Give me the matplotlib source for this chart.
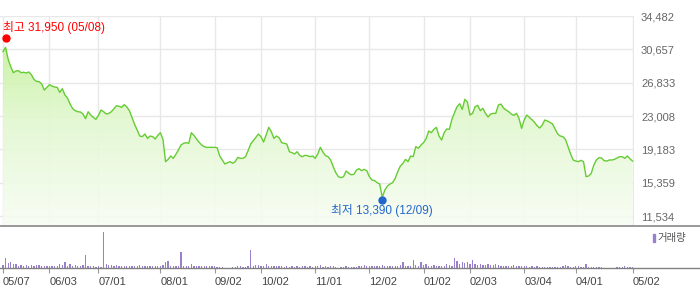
import numpy as np
import matplotlib
matplotlib.use("Agg")
import matplotlib.pyplot as plt
from matplotlib.lines import Line2D
from matplotlib.patches import Rectangle
from matplotlib.colors import LinearSegmentedColormap

plt.rcParams["font.family"] = ["Liberation Sans", "Noto Sans CJK KR"]

# === DATA ===
# daily closes, 2024-05-07 .. 2025-05-02 (one value per trading day)
closes = [
    30390, 30890, 29510, 28670, 27980, 28170, 28210, 27980, 28020, 27940,
    28060, 27750, 27210, 26980, 26950, 26680, 25990, 26300, 26600, 26450,
    26330, 26300, 25720, 26140, 25420, 25070, 24380, 23850, 23620, 23500,
    23470, 23240, 22700, 23500, 23120, 22850, 22620, 23080, 23700, 23500,
    23240, 23310, 23500, 23850, 24190, 24120, 24000, 24310, 24040, 23620,
    22850, 22050, 21400, 20710, 20640, 20940, 20440, 20710, 20640, 20370,
    20790, 21090, 20330, 17770, 18030, 18420, 18150, 18610, 19110, 19680,
    19870, 19950, 19870, 21090, 20790, 20370, 19990, 19680, 19490, 19410,
    19410, 19410, 19410,
    19370, 18420, 17960, 17500, 17650, 17770, 17580, 17770, 18260, 18150,
    18150, 18340, 19030, 19790, 20180, 20560, 20940, 20640, 20020, 20830,
    21710, 21210, 20440, 20710, 20520, 19950, 19870, 19790, 18910, 18800,
    18650, 18910, 18490, 18340, 18490, 18460, 18340, 18420, 18150, 18650,
    19410, 18880, 18460, 18340, 17960, 17190, 16500, 16050, 15930, 16050,
    16700, 16430, 16270, 16310, 16810, 16960, 16730, 16890, 16730, 16050,
    15660, 15590, 15360, 15200, 13670, 14520, 14970, 15200, 15360, 15850,
    16620, 17270, 17580, 18030, 17770, 18420, 18340, 19490, 19300, 19680,
    19950,
    20410, 21290, 21090, 21480, 21710, 20710, 20250, 21090, 21520, 21480,
    22620, 23390, 24080, 24420, 23770, 24920, 24610, 23120, 23310, 24080,
    24230, 23620, 23890, 23310, 22890, 23240, 23310, 23310, 24270, 24380,
    23920, 23700, 23500, 23240, 23080, 23310, 22740, 21590, 22550, 23120,
    22850, 22590, 22280, 21900, 21630, 21970, 22550, 22430, 22280, 22090,
    21520, 20940, 20710, 20640, 20330, 19490, 18650, 17960, 17840, 17770,
    17920, 17770, 16050, 16120, 16430, 17380, 17960, 18230, 18190, 17880,
    17840, 17960, 17960, 18030, 18190, 18340, 18340, 18150, 18420, 18110,
    17840,
]

# volume, 10k shares
volume_10k = [
    3, 10, 5, 6, 4, 4, 2, 3, 2, 3,
    2, 3, 2, 3, 3, 2, 2, 2, 2, 2,
    2, 2, 4, 3, 6, 2, 4, 2, 3, 2,
    2, 3, 13, 2, 2, 2, 1, 2, 1, 37,
    4, 3, 3, 2, 3, 2, 2, 2, 2, 2,
    2, 2, 2, 3, 2, 2, 2, 2, 2, 2,
    2, 2, 3, 6, 7, 2, 2, 2, 2, 16,
    2, 2, 2, 4, 2, 2, 2, 2, 2, 2,
    2, 2, 2,
    1, 1, 1, 0, 0, 0, 1, 1, 2, 2,
    1, 1, 2, 18, 2, 3, 3, 2, 2, 4,
    2, 2, 2, 2, 2, 2, 1, 2, 1, 2,
    1, 2, 1, 2, 2, 1, 2, 1, 2, 2,
    3, 1, 2, 1, 2, 2, 1, 0, 1, 1,
    2, 1, 1, 1, 1, 2, 2, 3, 2, 2,
    2, 2, 2, 2, 3, 2, 2, 2, 2, 2,
    2, 3, 6, 2, 2, 2, 8, 3, 2, 6,
    3, 4, 2, 2, 3, 2, 2, 2, 2, 4,
    3, 2, 10, 7, 4, 6, 5, 6, 4, 8,
    4, 3, 4, 3, 3, 4, 3, 3, 4, 3,
    2, 2, 2, 2, 2, 3, 2, 2, 2, 2,
    2, 1, 2, 1, 2, 1, 1, 1, 1, 1,
    1, 1, 1, 1, 2, 3, 2, 1, 1, 2,
    2, 1, 1, 4, 1, 1, 1, 1, 1, 1,
    0, 0, 0, 0, 0, 1, 1, 1, 2, 1,
    1, 1,
]

tick_idx = [0, 18, 37, 61, 82, 100, 121, 142, 163, 181, 202, 222, 244]
tick_labels = ["05/07", "06/03", "07/01", "08/01", "09/02", "10/02", "11/01",
               "12/02", "01/02", "02/03", "03/04", "04/01", "05/02"]

price_ticks = [34482, 30657, 26833, 23008, 19183, 15359, 11534]

high_price, high_date = 31950, "05/08"
low_price, low_date = 13390, "12/09"

# === LAYOUT ===
W, H = 700, 289
PX = 2.58  # pixels per trading day


def px_box(left, top, right, bottom):
    return [left / W, 1 - bottom / H, (right - left) / W, (bottom - top) / H]


fig = plt.figure(figsize=(W / 100, H / 100), dpi=100)
ax = fig.add_axes(px_box(0, 16, 634, 226))
axv = fig.add_axes(px_box(0, 226, 634, 268))

x = np.arange(len(closes))
xlim = (-3 / PX, 631 / PX)
ylim = (price_ticks[-1] - 10 * (price_ticks[0] - price_ticks[-1]) / 200, price_ticks[0])

# --- price panel ---
ax.set_xlim(*xlim)
ax.set_ylim(*ylim)

grad = np.linspace(0, 1, 256).reshape(-1, 1)
cmap = LinearSegmentedColormap.from_list("g", ["#f8fdf4", "#e2f8d0", "#bbee8a"])
im = ax.imshow(grad, extent=[xlim[0], xlim[1], ylim[0], ylim[1]], origin="lower",
               aspect="auto", cmap=cmap, zorder=1, alpha=0.9)
poly = ax.fill_between(x, closes, ylim[0], facecolor="none", edgecolor="none")
im.set_clip_path(poly.get_paths()[0], transform=ax.transData)

ax.plot(x, closes, color="#66cc33", lw=1.0, zorder=3)

ax.set_xticks(tick_idx)
ax.set_yticks(price_ticks)
ax.set_yticklabels([f"{v:,}" for v in price_ticks])
ax.grid(True, color="#e8e8e8", lw=1.0)
ax.set_axisbelow(True)
ax.tick_params(axis="x", length=0, labelbottom=False)
ax.yaxis.tick_right()
ax.tick_params(axis="y", length=0, pad=5, labelsize=8, labelcolor="#666666")
for s in ax.spines.values():
    s.set_visible(False)

hi = int(np.argmax(closes))
lo = int(np.argmin(closes))
ax.plot(hi, high_price, "o", color="#ff0000", ms=5, zorder=5, clip_on=False)
ax.annotate(f"최고 {high_price:,} ({high_date})", xy=(hi, high_price),
            xytext=(-1.5, 7.5), textcoords="offset points", ha="left", va="center",
            color="#ff0000", fontsize=8.5)
ax.plot(lo, low_price, "o", color="#2266cc", ms=5, zorder=5, clip_on=False)
ax.annotate(f"최저 {low_price:,} ({low_date})", xy=(lo, low_price),
            xytext=(0, -7.5), textcoords="offset points", ha="center", va="center",
            color="#2266cc", fontsize=8.5)

# --- volume panel ---
axv.bar(x, volume_10k, width=0.5, color="#9a80cc", linewidth=0)
axv.set_xlim(*xlim)
axv.set_ylim(0, max(volume_10k) * 42 / 36.5)
axv.set_yticks([])
axv.set_xticks(tick_idx)
axv.set_xticklabels(tick_labels)
for lbl in axv.get_xticklabels():
    lbl.set_ha("left")
axv.tick_params(axis="x", length=3.5, color="#999999", labelsize=8,
                labelcolor="#444444", pad=3)
for s in axv.spines.values():
    s.set_visible(False)

fig.add_artist(Line2D([0, 1], [1 - 225.5 / H] * 2, color="#888888", lw=1.2))
fig.add_artist(Line2D([0, 1], [1 - 268 / H] * 2, color="#808080", lw=1.0))

fig.add_artist(Rectangle((653 / W, 1 - 242 / H), 2 / W, 8 / H, color="#9a80cc"))
fig.text(657 / W, 1 - 237.5 / H, "거래량", fontsize=7.5, color="#555555",
         ha="left", va="center")

fig.savefig("out.png", dpi=100)
